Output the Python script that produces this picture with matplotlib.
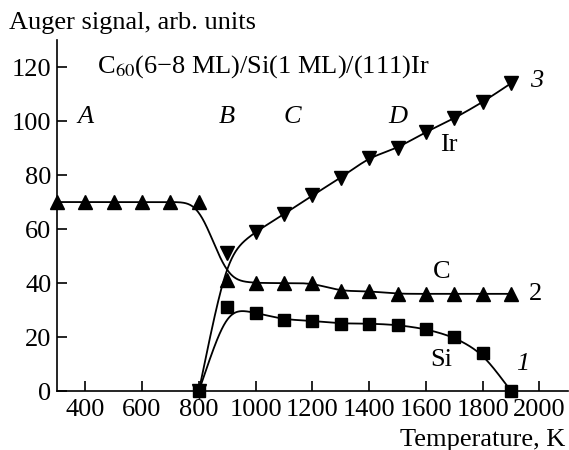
import numpy as np
import matplotlib.pyplot as plt

plt.rcParams['font.family'] = ['Liberation Serif', 'DejaVu Serif']
plt.rcParams['mathtext.fontset'] = 'stix'

# temperatures, K
temp_c = [300, 400, 500, 600, 700, 800, 900, 1000, 1100, 1200, 1300, 1400, 1500, 1600, 1700, 1800, 1900]
carbon = [70, 70, 70, 70, 70, 70, 41, 40, 40, 40, 37, 37, 36, 36, 36, 36, 36]

temp_ir = [800, 900, 1000, 1100, 1200, 1300, 1400, 1500, 1600, 1700, 1800, 1900]
iridium = [0, 51, 59, 65.5, 72.5, 79, 86.5, 90, 96, 101, 107, 114]

temp_si = [800, 900, 1000, 1100, 1200, 1300, 1400, 1500, 1600, 1700, 1800, 1900]
silicon = [0, 31, 29, 26.5, 26, 25, 25, 24.5, 23, 20, 14, 0]

xticks = [400, 600, 800, 1000, 1200, 1400, 1600, 1800, 2000]
yticks = [0, 20, 40, 60, 80, 100, 120]


def smooth_line(x, y, sigma=35.0):
    # gaussian-smoothed polyline, ends kept fixed by odd reflection
    xs = np.arange(x[0], x[-1] + 1, 1.0)
    ys = np.interp(xs, x, y)
    n = int(4 * sigma)
    left = 2 * ys[0] - ys[1:n + 1][::-1]
    right = 2 * ys[-1] - ys[-n - 1:-1][::-1]
    ext = np.concatenate([left, ys, right])
    k = np.exp(-0.5 * (np.arange(-n, n + 1) / sigma) ** 2)
    k /= k.sum()
    sm = np.convolve(ext, k, mode='same')[n:n + len(xs)]
    return xs, sm


fig = plt.figure(figsize=(5.69, 4.5), dpi=100)
ax = fig.add_axes([0.1, 0.131, 0.898, 0.78])

for tx, ty, mk, ms in [(temp_c, carbon, '^', 9.5),
                       (temp_ir, iridium, 'v', 9.5),
                       (temp_si, silicon, 's', 8.3)]:
    xs, ys = smooth_line(tx, ty)
    ax.plot(xs, ys, color='black', lw=1.3)
    ax.plot(tx, ty, mk, color='black', ms=ms, clip_on=False)

ax.set_xlim(300, 2100)
ax.set_ylim(0, 130)
ax.set_xticks(xticks)
ax.set_yticks(yticks)
ax.spines['top'].set_visible(False)
ax.spines['right'].set_visible(False)
ax.spines['left'].set_linewidth(1.2)
ax.spines['bottom'].set_linewidth(1.2)
ax.tick_params(direction='in', length=7, width=1.2, labelsize=19)
ax.tick_params(axis='x', pad=6)
ax.tick_params(axis='y', pad=4)

fig.text(0.015, 0.95, 'Auger signal, arb. units', fontsize=19, va='center', ha='left')
fig.text(0.993, 0.022, 'Temperature, K', fontsize=19, va='center', ha='right')

ax.text(440, 120, r'C$_{60}$(6−8 ML)/Si(1 ML)/(111)Ir', fontsize=19, va='center', ha='left')
for lbl, lx in [('A', 400), ('B', 900), ('C', 1130), ('D', 1500)]:
    ax.text(lx, 101.5, lbl, fontsize=19, style='italic', ha='center', va='center')

ax.text(1990, 115, '3', fontsize=19, style='italic', ha='center', va='center')
ax.text(1985, 36, '2', fontsize=19, ha='center', va='center')
ax.text(1940, 10, '1', fontsize=19, style='italic', ha='center', va='center')
ax.text(1680, 91, 'Ir', fontsize=19, ha='center', va='center')
ax.text(1655, 44, 'C', fontsize=19, ha='center', va='center')
ax.text(1655, 11.5, 'Si', fontsize=19, ha='center', va='center')

fig.savefig('out.png', dpi=100)
